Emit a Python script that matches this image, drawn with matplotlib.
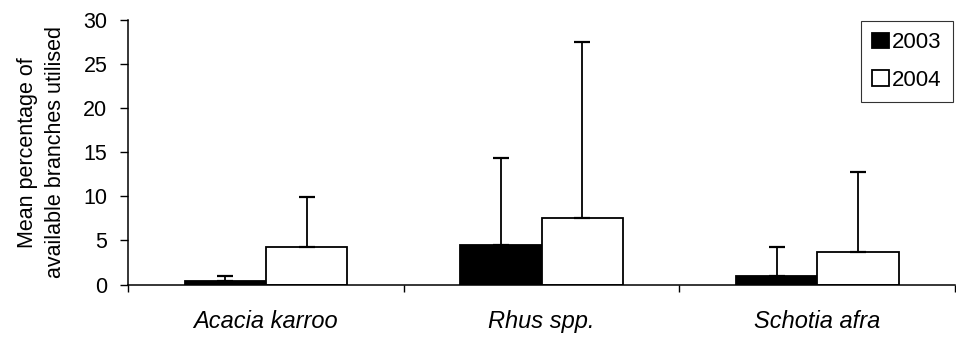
import numpy as np
from matplotlib import pyplot as plt

species = ["Acacia karroo", "Rhus spp.", "Schotia afra"]
mean_2003 = [0.43, 4.5, 0.93]
mean_2004 = [4.25, 7.6, 3.72]
err_2003 = [0.6, 9.9, 3.3]
err_2004 = [5.7, 19.9, 9.0]

plt.rcParams['font.family'] = ['Liberation Sans', 'DejaVu Sans']

fig = plt.figure(figsize=(9.56, 3.38), dpi=100)
ax = fig.add_axes([0.134, 0.158, 0.865, 0.783])

x = np.arange(len(species))
w = 0.295

ax.bar(x - w / 2, mean_2003, w, color="black", edgecolor="black", linewidth=1.3, label="2003")
ax.bar(x + w / 2, mean_2004, w, color="white", edgecolor="black", linewidth=1.3, label="2004")
ax.errorbar(x - w / 2, mean_2003, yerr=[np.zeros(3), err_2003], fmt="none",
			ecolor="black", elinewidth=1.3, capsize=5.5, capthick=1.6)
ax.errorbar(x + w / 2, mean_2004, yerr=[np.zeros(3), err_2004], fmt="none",
			ecolor="black", elinewidth=1.3, capsize=5.5, capthick=1.6)

ax.set_xlim(-0.5, 2.5)
ax.set_ylim(0, 30)
ax.set_yticks(range(0, 31, 5))
ax.tick_params(axis="y", labelsize=15.5, length=6, width=1, pad=9)

ax.set_xticks(x)
ax.set_xticklabels(species, fontstyle="italic", fontsize=17)
ax.tick_params(axis="x", which="major", length=0, pad=18)
ax.set_xticks([-0.5, 0.5, 1.5, 2.5], minor=True)
ax.tick_params(axis="x", which="minor", length=5, width=1, direction="out")

ax.spines["top"].set_visible(False)
ax.spines["right"].set_visible(False)
ax.spines["left"].set_linewidth(1.1)
ax.spines["bottom"].set_linewidth(1.1)

ax.set_ylabel("Mean percentage of\navailable branches utilised", fontsize=15.5,
			  labelpad=12, linespacing=1.45)

leg = ax.legend(loc="upper right", bbox_to_anchor=(0.997, 0.995), borderaxespad=0,
				fancybox=False, edgecolor="black", fontsize=16, handlelength=0.75,
				handleheight=0.7, handletextpad=0.15, labelspacing=0.75, borderpad=0.5)
leg.get_frame().set_linewidth(0.8)

plt.savefig("out.png", dpi=100)
